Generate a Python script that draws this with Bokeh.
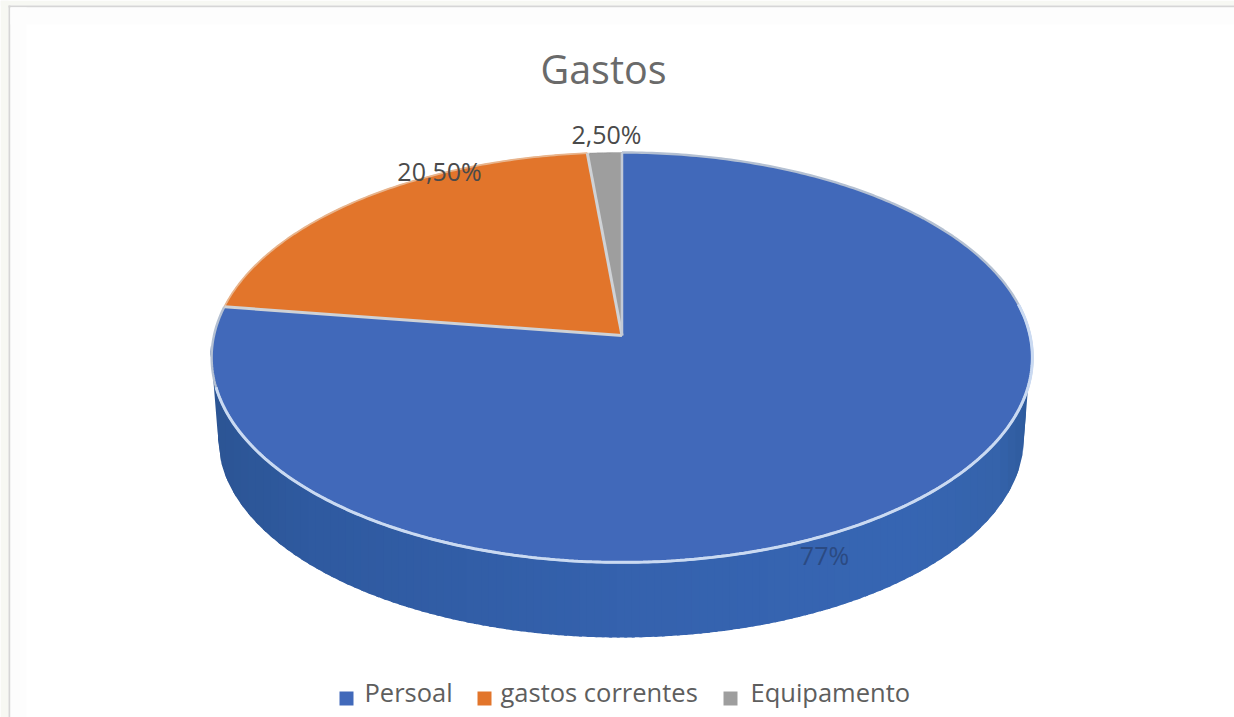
import numpy as np
from bokeh.plotting import figure
from bokeh.models import Range1d
from bokeh.core.properties import value
from bokeh.embed import file_html
from bokeh.resources import INLINE

# ---- data ----
title_text = "Gastos"
categories = ["Persoal", "gastos correntes", "Equipamento"]
slice_shares = [77.3, 21.2, 1.5]            # swept share of each slice as drawn
data_labels = ["77%", "20,50%", "2,50%"]
slice_colors = ["#4169BA", "#E2752B", "#9E9E9E"]

# ---- view geometry of the tilted disc (reference pixel space) ----
APEX_X, APEX_Y, A, B, K = 621.5, 335.0, 408.0, 202.6, 0.107
W, H = 1234, 717
FONT = value("Open Sans")


def project(theta):
    """Clockwise angle from 12 o'clock -> point on the tilted disc rim."""
    u, v = np.sin(theta), np.cos(theta)
    d = 1 + K * v
    return APEX_X + A * u / d, APEX_Y - B * v / d


p = figure(width=W, height=H, output_backend="svg", toolbar_location=None,
           x_range=Range1d(0, W), y_range=Range1d(H, 0),
           x_axis_type=None, y_axis_type=None, min_border=0,
           outline_line_color=None, background_fill_color="white",
           border_fill_color="white")
p.grid.visible = False

# ---- screenshot frame: beige strips and grey hairlines ----
p.quad(left=[0, 0], right=[W, 8], top=[0, 0], bottom=[5, H], fill_color="#F7F8F3", line_color=None)
p.quad(left=[8, 8], right=[W, 10], top=[5, 5], bottom=[7, H], fill_color="#D6D6D6", line_color=None)
p.quad(left=[10, 10], right=[W, 26], top=[7, 7], bottom=[24, H], fill_color="#FDFDFD", line_color=None)

# ---- side wall as shaded strips, painted left to right with overlap ----
xs = np.linspace(210, 1030, 110)
stops_f = [0.0, 0.12, 0.5, 0.85, 0.96, 1.0]
stops_r = [0x2C, 0x2F, 0x35, 0x37, 0x35, 0x2E]
stops_g = [0x55, 0x5A, 0x62, 0x66, 0x63, 0x5A]
stops_b = [0x94, 0xA0, 0xAE, 0xB3, 0xAB, 0x9C]
wall_xs, wall_ys, wall_cols = [], [], []
CX, CY_T, RX_T, RY_T, CY_B, RX_B, RY_B = 620.5, 357.0, 409.5, 205.0, 437.0, 403.0, 200.0


def top_y(x):
    return CY_T + RY_T * np.sqrt(np.clip(1 - ((x - CX) / RX_T) ** 2, 0, 1))


def bottom_y(x):
    dx = np.abs(x - CX)
    if dx < RX_B:
        return CY_B + RY_B * np.sqrt(1 - (dx / RX_B) ** 2)
    return CY_B - (dx - RX_B) / (RX_T - RX_B) * (CY_B - CY_T)


for x0, x1 in zip(xs[:-1], xs[1:]):
    f = ((x0 + x1) / 2 - 210) / 820
    col = "#%02x%02x%02x" % (int(np.interp(f, stops_f, stops_r)),
                             int(np.interp(f, stops_f, stops_g)),
                             int(np.interp(f, stops_f, stops_b)))
    sub = np.linspace(x0, min(x1 + 3, 1030), 4)
    bot = [bottom_y(x) for x in sub]
    wall_xs.append(np.r_[sub, sub[::-1]])
    wall_ys.append(np.r_[top_y(sub) - 3, bot[::-1]])
    wall_cols.append(col)
p.patches(wall_xs, wall_ys, fill_color=wall_cols, line_color=None)

# ---- top face slices ----
edges = np.cumsum([0.0] + slice_shares) / 100.0 * 2 * np.pi
for i, col in enumerate(slice_colors):
    t = np.linspace(edges[i], edges[i + 1], 240)
    X, Y = project(t)
    p.patch(np.r_[APEX_X, X], np.r_[APEX_Y, Y], fill_color=col, line_color=col, line_width=0.5)

# rims
t = np.linspace(edges[0], edges[1], 360)
X, Y = project(t)
p.line(X, Y, line_color="#B4C0D2", line_width=2.4)
t = np.linspace(np.pi * 0.45, np.pi * 1.42, 300)
X, Y = project(t)
p.line(X, Y, line_color="#CADAF2", line_width=3)
t = np.linspace(edges[1], edges[2], 120)
X, Y = project(t)
p.line(X, Y, line_color="#E8B48C", line_width=1.8)

# radial separators
for e in edges[1:3]:
    X, Y = project(np.array([e]))
    p.line([APEX_X, X[0]], [APEX_Y, Y[0]], line_color="#CFD2D6", line_width=3)
X, Y = project(np.array([0.0]))
p.line([APEX_X, X[0]], [APEX_Y, Y[0]], line_color="#C3CAD6", line_width=2.5)

# ---- texts ----
p.text([603], [68], text=[title_text], text_font=FONT, text_font_size="39.5px",
       text_color="#6A6A6A", text_align="center", text_baseline="middle")

label_x = [824, 439, 606]
label_y = [554, 170, 133]
label_col = ["#2B4A82", "#4A4A4A", "#4A4A4A"]
p.text(label_x, label_y, text=data_labels, text_font=FONT, text_font_size="25px",
       text_color=label_col, text_align="center", text_baseline="middle")

# ---- legend ----
swatch_x = [346, 484, 730]
text_x = [364, 500, 750]
p.scatter(swatch_x, [698] * 3, marker="square", size=14, fill_color=slice_colors, line_color=None)
p.text(text_x, [691] * 3, text=categories, text_font=FONT, text_font_size="25.5px",
       text_color="#5E5E5E", text_align="left", text_baseline="middle")

open("out.html", "w").write(file_html(p, INLINE))
